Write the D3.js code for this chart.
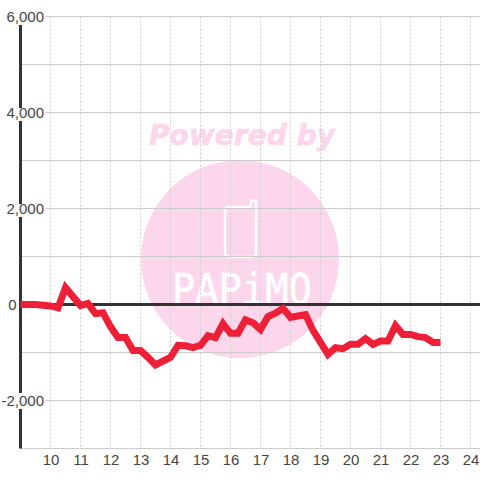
<!DOCTYPE html>
<html><head><meta charset="utf-8">
<script src="https://cdnjs.cloudflare.com/ajax/libs/d3/7.8.5/d3.min.js"></script>
<style>html,body{margin:0;padding:0;background:#fff}svg{display:block}</style>
</head><body><svg id="c" width="480" height="480"></svg>
<script>
const hours = [9,9.5,10,10.25,10.5,11,11.25,11.5,11.75,12,12.25,12.5,12.75,13,13.25,13.5,14,14.25,14.5,14.75,15,15.25,15.5,15.75,16,16.25,16.5,16.75,17,17.25,17.5,17.75,18,18.25,18.5,18.75,19,19.25,19.5,19.75,20,20.25,20.5,20.75,21,21.25,21.5,21.75,22,22.25,22.5,22.75,23];
const values = [0,0,-30,-70,350,-20,20,-190,-170,-460,-690,-690,-960,-960,-1100,-1260,-1100,-850,-860,-900,-850,-650,-690,-400,-600,-600,-320,-380,-520,-250,-180,-80,-270,-240,-210,-540,-790,-1040,-900,-920,-830,-830,-710,-830,-760,-760,-440,-625,-625,-670,-690,-790,-790];
const xTicks = [10,11,12,13,14,15,16,17,18,19,20,21,22,23,24];
const yGrid = [6000,5000,4000,3000,2000,1000,-1000,-2000,-3000];
const yLabels = [6000,4000,2000,0,-2000];
const watermarkTop = "Powered by";
const watermarkLogo = "PAPiMO";

const svg = d3.select("#c");
const x = d3.scaleLinear().domain([9,25]).range([20.5,500.5]);
const y = d3.scaleLinear().domain([6000,-3000]).range([16.5,448.5]);
const font = "'Liberation Sans', Arial, sans-serif";
const fmt = d3.format(",");

// watermark
const wm = svg.append("g");
wm.append("text").text(watermarkTop).attr("x",242).attr("y",145)
  .attr("text-anchor","middle").attr("fill","#fcd7ec").attr("stroke","#fcd7ec").attr("stroke-width",0.7)
  .attr("font-family","'DejaVu Sans'").attr("font-weight","bold").attr("font-style","italic")
  .attr("font-size",28).attr("textLength",186);
wm.append("circle").attr("cx",240).attr("cy",259).attr("r",99).attr("fill","#fcd7ec");
wm.append("path").attr("d","M228,207 H249 Q251,207 251,205 V203 Q251,200.500 253.500,200.500 Q256,200.500 256,203 V252 Q256,257 251,257 H230 Q225,257 225,252 V210 Q225,207 228,207 Z")
  .attr("fill","none").attr("stroke","#fff").attr("stroke-width",2.5);
wm.append("text").text(watermarkLogo).attr("transform","translate(172,304) scale(0.9,1)")
  .attr("fill","#fff").attr("stroke","#fff").attr("stroke-width",0.6)
  .attr("font-family","'DejaVu Sans Mono'").attr("font-size",43);

// grid
const grid = svg.append("g");
grid.selectAll("line.h").data(yGrid).join("line").attr("class","h")
  .attr("x1",20).attr("x2",480).attr("y1",d=>y(d)).attr("y2",d=>y(d))
  .attr("stroke","#ccc").attr("stroke-width",1);
grid.selectAll("line.v").data(xTicks).join("line").attr("class","v")
  .attr("x1",d=>x(d)).attr("x2",d=>x(d)).attr("y1",y(6000)).attr("y2",y(-3000))
  .attr("stroke","#ccc").attr("stroke-width",1).attr("stroke-dasharray","2,2");

// axis lines
svg.append("line").attr("x1",20.5).attr("x2",20.5).attr("y1",y(6000)).attr("y2",y(-3000))
  .attr("stroke","#333").attr("stroke-width",3);
svg.append("line").attr("x1",20).attr("x2",480).attr("y1",y(0)).attr("y2",y(0))
  .attr("stroke","#333").attr("stroke-width",3);

// y labels
const yAxis = svg.append("g").attr("transform","translate(44,0)")
  .call(d3.axisLeft(y).tickValues(yLabels).tickSize(0).tickPadding(0).tickFormat(d=>fmt(d).replace("\u2212","-")));
yAxis.select(".domain").remove();
yAxis.selectAll(".tick").filter(d=>d!==0).insert("rect","text")
  .attr("x",-44).attr("width",46).attr("y",d=>d<0?-8:-5).attr("height",d=>d<0?16:13).attr("fill","#fff");
yAxis.selectAll(".tick text").attr("font-family",font).attr("font-size",15).attr("fill","#444")
  .attr("dy","0.36em").attr("x",d=>d===0?-27.5:0);

// x labels
const xAxis = svg.append("g").attr("transform",`translate(0,${y(-3000)})`)
  .call(d3.axisBottom(x).tickValues(xTicks).tickSize(0).tickPadding(6).tickFormat(d3.format("d")));
xAxis.select(".domain").remove();
xAxis.selectAll(".tick text").attr("font-family",font).attr("font-size",15).attr("fill","#444");

// series
const line = d3.line().x((d,i)=>x(hours[i])).y(d=>y(d));
svg.append("path").datum(values).attr("d",line).attr("fill","none")
  .attr("stroke","#ee2038").attr("stroke-width",7).attr("stroke-linejoin","miter").attr("stroke-miterlimit",4);
</script></body></html>
